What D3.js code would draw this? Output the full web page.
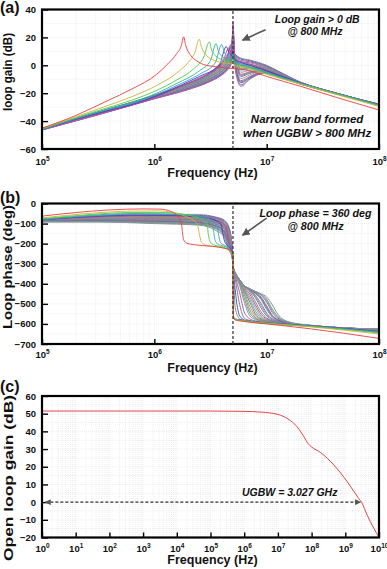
<!DOCTYPE html>
<html>
<head>
<meta charset="utf-8">
<title>Loop gain / loop phase / open loop gain</title>
<script src="https://d3js.org/d3.v7.min.js"></script>
<style>
  body { margin: 0; background: #fff; }
  svg text { font-family: "Liberation Sans", Arial, sans-serif; font-weight: bold; fill: #111; }
  .frame { fill: none; stroke: #000; stroke-width: 2.2px; }
  .grid line { stroke: #e2e2e2; stroke-width: 0.6px; stroke-dasharray: 1,1; }
  .curve { fill: none; stroke-width: 0.9px; }
  .band { stroke-width: 1px; }
  .axis path { display: none; }
  .axis line { stroke: #000; stroke-width: 1.4px; }
  .axis text { font-size: 9.5px; }
  .marker { stroke: #333; stroke-width: 1.2px; stroke-dasharray: 3,2; }
  .note { font-style: italic; }
  .pointer { stroke: #555; stroke-width: 1.6px; }
</style>
</head>
<body>
<div id="chart"></div>
<script>
// ---- data (x values are log10 of frequency in Hz) ----

// tick values
const gainTicks = [40, 20, 0, -20, -40, -60];
const phaseTicks = [0, -100, -200, -300, -400, -500, -600, -700];
const openTicks = [60, 50, 40, 30, 20, 10, 0, -10, -20];
const sweepDecades = [5, 6, 7, 8];
const openDecades = [0, 1, 2, 3, 4, 5, 6, 7, 8, 9, 10];

// marker line (the 800 MHz point on the sweep axis)
const markerLogF = 6.70;

// (a) loop gain, the first sweeps with their own visible peaks  [logF, dB]
const gainEarly = [
  [[5.0,-45],[5.3,-36],[5.58,-25.5],[5.8,-17],[6.02,-6.5],[6.12,1],[6.2,8.5],[6.24,14],[6.26,20.4],[6.28,14],[6.32,7.5],[6.38,3],[6.44,0.5],[6.55,-1],[6.65,-2],[6.69,-2.3],[6.70,-0.5],[6.71,-2.5],[6.77,-2.8],[6.85,-4],[7.0,-8],[7.3,-15],[7.6,-22.5],[8.0,-32]],
  [[5.0,-45.3],[5.3,-37],[5.58,-29],[5.8,-22.5],[6.02,-14.5],[6.2,-5.5],[6.3,2],[6.36,9],[6.40,18.7],[6.42,13],[6.46,7.5],[6.52,4],[6.6,2],[6.69,1],[6.70,3],[6.71,0],[6.77,-1],[6.85,-2.5],[7.0,-6.5],[7.3,-13.5],[7.6,-20.5],[8.0,-29.5]],
  [[5.0,-45.6],[5.3,-37.5],[5.58,-30.5],[5.8,-25],[6.02,-18],[6.2,-10.5],[6.35,-2.5],[6.44,6],[6.49,16.8],[6.51,11],[6.55,6.5],[6.6,4],[6.69,2.5],[6.70,5],[6.71,1],[6.77,-0.5],[6.85,-2],[7.0,-6],[7.3,-13.2],[7.6,-20],[8.0,-29]],
  [[5.0,-45.8],[5.3,-38],[5.58,-31.5],[5.8,-26.5],[6.02,-20],[6.2,-13],[6.4,-4],[6.5,3.5],[6.55,15.6],[6.57,10],[6.61,6],[6.66,4],[6.69,3.5],[6.70,7],[6.71,2],[6.77,0],[6.85,-1.5],[7.0,-5.5],[7.3,-13],[7.6,-19.8],[8.0,-28.6]],
  [[5.0,-46],[5.3,-38.3],[5.58,-32],[5.8,-27.5],[6.02,-21],[6.2,-14.5],[6.4,-6.5],[6.54,1.5],[6.60,14.9],[6.62,10],[6.65,6.5],[6.69,5],[6.70,8.5],[6.71,3],[6.77,1],[6.85,-1],[7.0,-5],[7.3,-12.8],[7.6,-19.6],[8.0,-28.4]],
  [[5.0,-46],[5.3,-38.6],[5.58,-32.5],[5.8,-28],[6.02,-21.8],[6.2,-15.5],[6.4,-8],[6.58,0.5],[6.64,13.5],[6.66,10],[6.69,7],[6.70,10],[6.71,4.5],[6.77,2],[6.85,0],[7.0,-4],[7.3,-12.6],[7.6,-19.6],[8.0,-28.2]],
  [[5.0,-46],[5.3,-38.8],[5.58,-33],[5.8,-28.5],[6.02,-22.5],[6.2,-16.3],[6.4,-9],[6.6,1],[6.665,12.5],[6.68,9.5],[6.69,8],[6.70,11],[6.71,5],[6.77,2.5],[6.85,0.8],[7.0,-3.5],[7.3,-12.5],[7.6,-19.5],[8.0,-28.1]]
];

// (a) loop gain, the dense band of later sweeps on a shared frequency grid
const gainBandGrid = [5.0,5.5,6.0,6.3,6.5,6.6,6.65,6.68,6.69,6.70,6.715,6.74,6.77,6.85,6.93,7.0,7.1,7.3,7.6,8.0];
const gainBand = [
  [-45.6,-33.4,-21.4,-12.8,-4.8,2.5,7.5,12,10.5,9.5,8,6.5,5.2,3.8,2,0,-4,-12,-19.5,-27.8],
  [-45.7,-33.6,-21.6,-13.2,-5.4,1.5,6.5,13,11.5,10,8,6,4.5,3.2,1.4,-0.5,-4.4,-12.1,-19.5,-27.9],
  [-45.7,-33.7,-21.8,-13.5,-6,0.8,5.5,14,12.5,11,8,5.5,3.5,2.5,0.8,-1,-4.8,-12.2,-19.6,-27.9],
  [-45.8,-33.9,-22,-13.8,-6.5,0,4.8,15,13.5,12,8,5,2.5,1.8,0.2,-1.5,-5.2,-12.3,-19.6,-28],
  [-45.8,-34,-22.2,-14.2,-7,-0.8,4,10,14,16,8,4,1,0.8,-0.5,-2,-5.5,-12.4,-19.6,-28],
  [-45.8,-34.1,-22.3,-14.3,-7.2,-1.1,3.6,9.2,13.5,16.5,7.8,3.5,0.2,0.2,-0.8,-2.2,-5.6,-12.4,-19.6,-28],
  [-45.9,-34.2,-22.4,-14.5,-7.5,-1.5,3.2,8.5,13,17,7.5,3,-0.5,-0.3,-1.2,-2.5,-5.8,-12.5,-19.7,-28],
  [-45.9,-34.3,-22.6,-14.8,-8,-2.2,2.5,7.5,12.5,18,7,2,-2,-1.4,-1.8,-2.9,-6.1,-12.6,-19.7,-28.1],
  [-45.9,-34.4,-22.7,-14.9,-8.2,-2.6,2.1,7,12.2,18.5,6.8,1.5,-2.8,-2,-2.1,-3.1,-6.2,-12.6,-19.7,-28.1],
  [-46,-34.5,-22.8,-15.1,-8.5,-3,1.8,6.5,12,19,6.5,1,-3.5,-2.5,-2.5,-3.3,-6.4,-12.7,-19.7,-28.1],
  [-46,-34.6,-23,-15.4,-9,-3.7,1,5.5,11.5,20,6,0,-5,-3.6,-3.1,-3.7,-6.7,-12.8,-19.8,-28.1],
  [-46.1,-34.8,-23.2,-15.7,-9.4,-4.3,0.3,4.5,11,21,5.5,-1.5,-6.5,-4.7,-3.8,-4.1,-7,-12.9,-19.8,-28.2],
  [-46.1,-34.8,-23.3,-15.8,-9.6,-4.6,0,4.1,10.8,21.5,5.2,-2.2,-7.2,-5.2,-4.1,-4.3,-7.1,-12.9,-19.8,-28.2],
  [-46.1,-34.9,-23.4,-16,-9.8,-4.9,-0.4,3.7,10.5,22,5,-3,-8,-5.8,-4.4,-4.5,-7.2,-13,-19.8,-28.2],
  [-46.2,-35.1,-23.5,-16.3,-10.2,-5.4,-1,3,10,23.5,4.5,-4.5,-9.5,-6.9,-5,-4.8,-7.4,-13.1,-19.9,-28.2],
  [-46.2,-35.2,-23.6,-16.6,-10.6,-5.9,-1.7,2.2,9.5,25,4,-6,-11,-8,-5.6,-5.1,-7.6,-13.2,-19.9,-28.3],
  [-46.2,-35.2,-23.7,-16.7,-10.8,-6.1,-2,1.8,9.2,26,3.8,-6.8,-11.8,-8.5,-5.8,-5.2,-7.7,-13.2,-19.9,-28.3],
  [-46.3,-35.3,-23.8,-16.9,-11,-6.3,-2.3,1.5,9,27,3.5,-7.5,-12.5,-8.9,-6,-5.3,-7.8,-13.3,-19.9,-28.3],
  [-46.3,-35.4,-23.9,-17.2,-11.3,-6.7,-2.9,0.8,8.5,29,3,-9,-14,-9.6,-6.3,-5.5,-7.9,-13.4,-20,-28.3],
  [-46.4,-35.5,-24,-17.5,-11.5,-7,-3.5,0,8,31,2.5,-10.5,-15,-10,-6.5,-5.6,-8,-13.5,-20,-28.4]
];

// (b) loop phase, the first sweeps with their own visible steps  [logF, deg]
const phaseEarly = [
  [[5.0,-63],[5.3,-45],[5.6,-32],[5.9,-27],[6.05,-28],[6.15,-40],[6.21,-65],[6.24,-95],[6.25,-140],[6.26,-180],[6.29,-198],[6.35,-205],[6.5,-213],[6.6,-220],[6.68,-235],[6.70,-270],[6.705,-560],[6.72,-580],[6.8,-588],[7.0,-600],[7.4,-625],[8.0,-672]],
  [[5.0,-72],[5.4,-50],[5.8,-38],[6.05,-37],[6.2,-50],[6.32,-75],[6.38,-100],[6.40,-150],[6.42,-195],[6.46,-208],[6.55,-215],[6.65,-228],[6.69,-250],[6.70,-275],[6.705,-565],[6.72,-578],[6.8,-586],[7.0,-598],[7.4,-615],[8.0,-650]],
  [[5.0,-76],[5.4,-56],[5.8,-45],[6.1,-45],[6.3,-58],[6.42,-80],[6.47,-105],[6.48,-150],[6.50,-195],[6.54,-208],[6.62,-218],[6.68,-240],[6.70,-275],[6.705,-570],[6.72,-578],[6.8,-585],[7.0,-597],[7.4,-613],[8.0,-645]],
  [[5.0,-78],[5.4,-60],[5.8,-50],[6.1,-51],[6.35,-62],[6.47,-82],[6.52,-108],[6.53,-150],[6.55,-195],[6.59,-208],[6.65,-220],[6.69,-245],[6.70,-278],[6.705,-570],[6.72,-577],[6.8,-584],[7.0,-596],[7.4,-612],[8.0,-642]],
  [[5.0,-80],[5.4,-63],[5.8,-54],[6.1,-55],[6.4,-64],[6.52,-85],[6.56,-110],[6.57,-150],[6.59,-195],[6.63,-210],[6.67,-222],[6.69,-242],[6.70,-280],[6.705,-572],[6.72,-577],[6.8,-584],[7.0,-596],[7.4,-611],[8.0,-640]],
  [[5.0,-81],[5.4,-65],[5.8,-57],[6.1,-58],[6.4,-66],[6.56,-88],[6.60,-112],[6.61,-150],[6.63,-195],[6.66,-212],[6.69,-238],[6.70,-282],[6.705,-572],[6.72,-576],[6.8,-583],[7.0,-595],[7.4,-610],[8.0,-638]],
  [[5.0,-82],[5.4,-67],[5.8,-60],[6.1,-61],[6.4,-68],[6.58,-90],[6.64,-115],[6.65,-150],[6.665,-195],[6.69,-225],[6.70,-285],[6.705,-573],[6.72,-576],[6.8,-583],[7.0,-595],[7.4,-610],[8.0,-636]]
];

// (b) loop phase, the dense band of later sweeps on a shared grid
const phaseBandGrid = [5.0,5.5,6.0,6.4,6.55,6.62,6.66,6.69,6.70,6.705,6.72,6.76,6.8,6.85,6.9,6.95,7.0,7.05,7.1,7.2,7.4,8.0];
const phaseBand = [
  [-79,-65,-56,-56,-68,-82,-112,-195,-265, -330,-520,-575,-585,-590,-593,-596,-598,-600,-602,-605,-612,-634],
  [-80,-67,-58,-59,-71,-86,-118,-200,-268, -330,-430,-560,-580,-587,-591,-594,-597,-599,-601,-604,-612,-633],
  [-81,-69,-61,-62,-74,-90,-124,-205,-270, -329,-375,-505,-570,-583,-589,-593,-596,-598,-600,-604,-612,-632],
  [-82,-71,-64,-65,-77,-94,-130,-210,-273, -328,-362,-445,-540,-575,-585,-590,-594,-597,-600,-603,-611,-632],
  [-83,-73,-67,-69,-81,-98,-137,-215,-275, -328,-356,-410,-490,-560,-578,-587,-592,-596,-599,-603,-611,-631],
  [-83,-74,-68,-70,-82,-100,-140,-217,-276, -327,-354,-402,-470,-546,-573,-585,-590,-595,-598,-603,-611,-631],
  [-84,-75,-70,-72,-84,-102,-144,-220,-278, -327,-352,-396,-452,-530,-568,-582,-589,-594,-598,-602,-611,-631],
  [-84,-76,-71,-74,-86,-104,-147,-222,-279, -326,-350,-392,-441,-512,-560,-579,-587,-592,-597,-602,-610,-630],
  [-85,-77,-73,-76,-88,-107,-151,-225,-280, -326,-349,-389,-432,-492,-550,-575,-585,-591,-596,-602,-610,-630],
  [-85,-78,-74,-77,-90,-109,-154,-227,-281, -326,-348,-387,-426,-478,-536,-569,-583,-590,-595,-601,-610,-630],
  [-86,-79,-76,-79,-92,-112,-158,-230,-283, -326,-347,-385,-420,-465,-520,-562,-580,-588,-594,-601,-610,-630],
  [-86,-80,-77,-81,-94,-114,-162,-232,-284, -325,-346,-383,-415,-452,-505,-552,-575,-586,-592,-600,-610,-629],
  [-87,-81,-79,-83,-96,-117,-166,-235,-285, -325,-346,-382,-410,-440,-490,-540,-570,-584,-591,-600,-610,-629],
  [-88,-83,-82,-86,-100,-123,-174,-240,-288, -325,-345,-381,-409,-433,-470,-520,-560,-580,-589,-599,-609,-629],
  [-88,-84,-83,-88,-102,-126,-178,-242,-289, -324,-345,-381,-409,-431,-464,-508,-553,-577,-587,-598,-609,-628],
  [-88,-85,-85,-90,-105,-129,-182,-244,-290, -324,-345,-381,-409,-430,-458,-497,-546,-574,-586,-598,-609,-628],
  [-89,-87,-88,-94,-110,-136,-191,-248,-292, -324,-345,-381,-409,-428,-450,-478,-528,-566,-582,-597,-609,-628],
  [-89,-87,-89,-96,-112,-139,-195,-250,-293, -324,-345,-381,-409,-427,-447,-472,-519,-561,-580,-596,-608,-627],
  [-90,-88,-91,-98,-115,-143,-200,-252,-294, -323,-345,-381,-409,-427,-445,-466,-510,-556,-577,-595,-608,-627],
  [-90,-89,-94,-102,-120,-150,-210,-256,-296, -323,-345,-381,-409,-426,-441,-457,-492,-543,-571,-594,-608,-627],
  [-90,-90,-95,-103,-123,-154,-215,-258,-297, -323,-345,-381,-409,-425,-440,-454,-484,-535,-567,-593,-608,-626],
  [-91,-91,-97,-105,-127,-158,-220,-260,-298, -322,-345,-382,-410,-425,-439,-452,-477,-526,-563,-592,-608,-626],
  [-92,-92,-100,-108,-135,-165,-230,-263,-300, -322,-345,-382,-410,-425,-438,-450,-466,-505,-552,-590,-607,-626]
];

// (c) open loop gain  [logF, dB]
const openLoopGain = [[0,51.5],[1,51.5],[2,51.5],[3,51.5],[4,51.5],[5,51.5],[6,51.3],[6.5,50.9],[7,49.6],[7.3,47],[7.57,42.6],[7.77,37],[7.9,33],[8.0,31.2],[8.27,28],[8.66,21],[9.06,11.5],[9.4,2],[9.48,0],[9.65,-7.4],[10,-20]];
const ugbwSpan = [0.1, 9.45];   // log10 Hz, drawn at 0 dB

// ---- colours ----
const earlyColors = ["#e5403c", "#c9b43a", "#4cc94c", "#2fb38c", "#3c9bd2", "#3a3ac4", "#c43ca0"];
const bandColors = ["#8a8a8a", "#5b5bbf", "#7f7f7f", "#b45ab4", "#949494", "#4caf7d", "#8c8ca0", "#d98c3c",
                    "#7a7a7a", "#3cb4c8", "#9a9a9a", "#c8507a", "#858585", "#6e6ed2", "#9e9e9e", "#808080"];

// ---- layout ----
const W = 387, H = 569;
const left = 42, right = 379;

const svg = d3.select("#chart").append("svg")
    .attr("width", W)
    .attr("height", H);

const defs = svg.append("defs");
defs.append("marker")
    .attr("id", "head")
    .attr("viewBox", "0 0 10 10")
    .attr("refX", 9).attr("refY", 5)
    .attr("markerWidth", 5).attr("markerHeight", 5)
    .attr("markerUnits", "strokeWidth")
    .attr("orient", "auto-start-reverse")
    .append("path")
    .attr("d", "M0,0 L10,5 L0,10 z")
    .attr("fill", "#555");

// superscript decade labels, e.g. 10^5
function decadeLabels(g) {
    g.selectAll(".tick text").each(function (d) {
        const t = d3.select(this).text("");
        t.append("tspan").text("10");
        t.append("tspan").attr("dy", "-4").attr("font-size", "6.5px")
            .text(Math.round(Math.log10(d)));
    });
}

function panel(o) {
    const x = d3.scaleLog().domain(o.xDomain).range([left, right]);
    const y = d3.scaleLinear().domain(o.yDomain).range([o.bottom, o.top]);
    const g = svg.append("g");

    // faint background grid
    const grid = g.append("g").attr("class", "grid");
    const minor = [];
    for (let e = Math.log10(o.xDomain[0]); e < Math.log10(o.xDomain[1]); e++) {
        for (let m = 1; m < 10; m++) minor.push(m * Math.pow(10, e));
    }
    grid.selectAll("line.v").data(minor).join("line")
        .attr("x1", d => x(d)).attr("x2", d => x(d))
        .attr("y1", o.top).attr("y2", o.bottom);
    const step = (o.yTicks[0] - o.yTicks[1]) / 2;
    grid.selectAll("line.h").data(d3.range(o.yDomain[0], o.yDomain[1], step)).join("line")
        .attr("x1", left).attr("x2", right)
        .attr("y1", d => y(d)).attr("y2", d => y(d));

    // curves
    const line = d3.line()
        .x(d => x(Math.pow(10, d[0])))
        .y(d => y(d[1]))
        .curve(d3.curveMonotoneX);
    const clipId = "clip" + o.name;
    defs.append("clipPath").attr("id", clipId).append("rect")
        .attr("x", left).attr("y", o.top).attr("width", right - left).attr("height", o.bottom - o.top);
    const plot = g.append("g").attr("clip-path", `url(#${clipId})`);

    // axes with inward ticks
    g.append("g").attr("class", "axis")
        .attr("transform", `translate(${left},0)`)
        .call(d3.axisLeft(y).tickValues(o.yTicks).tickSizeInner(-6).tickSizeOuter(0).tickPadding(6));
    g.append("g").attr("class", "axis")
        .attr("transform", `translate(0,${o.bottom})`)
        .call(d3.axisBottom(x).tickValues(o.decades.map(e => Math.pow(10, e)))
            .tickSizeInner(-5).tickSizeOuter(0).tickPadding(o.xPad))
        .call(decadeLabels);

    g.append("rect").attr("class", "frame")
        .attr("x", left).attr("y", o.top)
        .attr("width", right - left).attr("height", o.bottom - o.top);

    // labels
    g.append("text")
        .attr("x", (left + right) / 2 + 2).attr("y", o.xLabelY)
        .attr("text-anchor", "middle").style("font-size", "12.5px")
        .text("Frequency (Hz)");
    g.append("text")
        .attr("transform", `translate(${o.yLabelX},${o.yLabelMid}) rotate(-90)`)
        .attr("text-anchor", "middle").style("font-size", "12.5px")
        .attr("textLength", o.yLabelLen).attr("lengthAdjust", "spacingAndGlyphs")
        .text(o.yLabel);
    g.append("text")
        .attr("x", 0).attr("y", o.tagY)
        .style("font-size", "16px")
        .text(o.tag);

    return { x, y, plot, line, g };
}

function drawBand(p, grid, rows) {
    rows.forEach((vals, k) => {
        p.plot.append("path").attr("class", "curve band")
            .attr("stroke", bandColors[k % bandColors.length])
            .attr("d", p.line(grid.map((f, i) => [f, vals[i]])));
    });
}
function drawEarly(p, curves) {
    curves.slice().reverse().forEach((pts, i) => {
        p.plot.append("path").attr("class", "curve")
            .attr("stroke", earlyColors[curves.length - 1 - i])
            .attr("d", p.line(pts));
    });
}

// ---- (a) loop gain ----
const pa = panel({
    name: "a", tag: "(a)", tagY: 13, top: 9.5, bottom: 149,
    xDomain: [1e5, 1e8], yDomain: [-60, 40], yTicks: gainTicks, decades: sweepDecades, xPad: 9.3,
    xLabelY: 177, yLabel: "loop gain (dB)", yLabelX: 11.5, yLabelMid: 72, yLabelLen: 78
});
drawBand(pa, gainBandGrid, gainBand);
drawEarly(pa, gainEarly);

// ---- (b) loop phase ----
const pb = panel({
    name: "b", tag: "(b)", tagY: 203, top: 203.5, bottom: 344,
    xDomain: [1e5, 1e8], yDomain: [-700, 0], yTicks: phaseTicks, decades: sweepDecades, xPad: 7.6,
    xLabelY: 372, yLabel: "Loop phase (deg)", yLabelX: 11.5, yLabelMid: 267, yLabelLen: 124
});
drawBand(pb, phaseBandGrid, phaseBand);
drawEarly(pb, phaseEarly);

// dashed marker lines + notes for (a) and (b)
[[pa, -60, 40], [pb, -700, 0]].forEach(([p, y0, y1]) => {
    p.g.append("line").attr("class", "marker")
        .attr("x1", p.x(Math.pow(10, markerLogF))).attr("x2", p.x(Math.pow(10, markerLogF)))
        .attr("y1", p.y(y0)).attr("y2", p.y(y1));
});

function note(p, lf, v, txt, size) {
    p.g.append("text").attr("class", "note")
        .attr("x", p.x(Math.pow(10, lf))).attr("y", p.y(v))
        .attr("text-anchor", "middle").style("font-size", size)
        .text(txt);
}
function pointer(p, a, b) {
    p.g.append("line").attr("class", "pointer")
        .attr("x1", p.x(Math.pow(10, a[0]))).attr("y1", p.y(a[1]))
        .attr("x2", p.x(Math.pow(10, b[0]))).attr("y2", p.y(b[1]))
        .attr("marker-end", "url(#head)");
}
note(pa, 7.45, 30.5, "Loop gain > 0 dB", "10.5px");
note(pa, 7.43, 21.5, "@ 800 MHz", "10.5px");
note(pa, 7.36, -41.5, "Narrow band formed", "11.5px");
note(pa, 7.36, -51.3, "when UGBW > 800 MHz", "11.5px");
pointer(pa, [6.99, 25.5], [6.785, 18]);

note(pb, 7.435, -66, "Loop phase = 360 deg", "10.7px");
note(pb, 7.435, -130, "@ 800 MHz", "10.7px");
pointer(pb, [7.0, -73], [6.785, -158]);

// ---- (c) open loop gain ----
const pc = panel({
    name: "c", tag: "(c)", tagY: 391.5, top: 396, bottom: 537.5,
    xDomain: [1, 1e10], yDomain: [-20, 60], yTicks: openTicks, decades: openDecades, xPad: 7.5,
    xLabelY: 564, yLabel: "Open loop gain (dB)", yLabelX: 12.5, yLabelMid: 478, yLabelLen: 166
});
pc.plot.append("path").attr("class", "curve")
    .attr("stroke", "#e0303a").attr("stroke-width", 1.3)
    .attr("d", pc.line(openLoopGain));
pc.g.append("line").attr("class", "marker")
    .attr("stroke", "#555").attr("stroke-width", 1.3)
    .attr("x1", pc.x(Math.pow(10, ugbwSpan[0]))).attr("x2", pc.x(Math.pow(10, ugbwSpan[1])))
    .attr("y1", pc.y(0)).attr("y2", pc.y(0))
    .attr("marker-start", "url(#head)").attr("marker-end", "url(#head)");
note(pc, 7.35, 3.5, "UGBW = 3.027 GHz", "10.5px");
</script>
</body>
</html>
